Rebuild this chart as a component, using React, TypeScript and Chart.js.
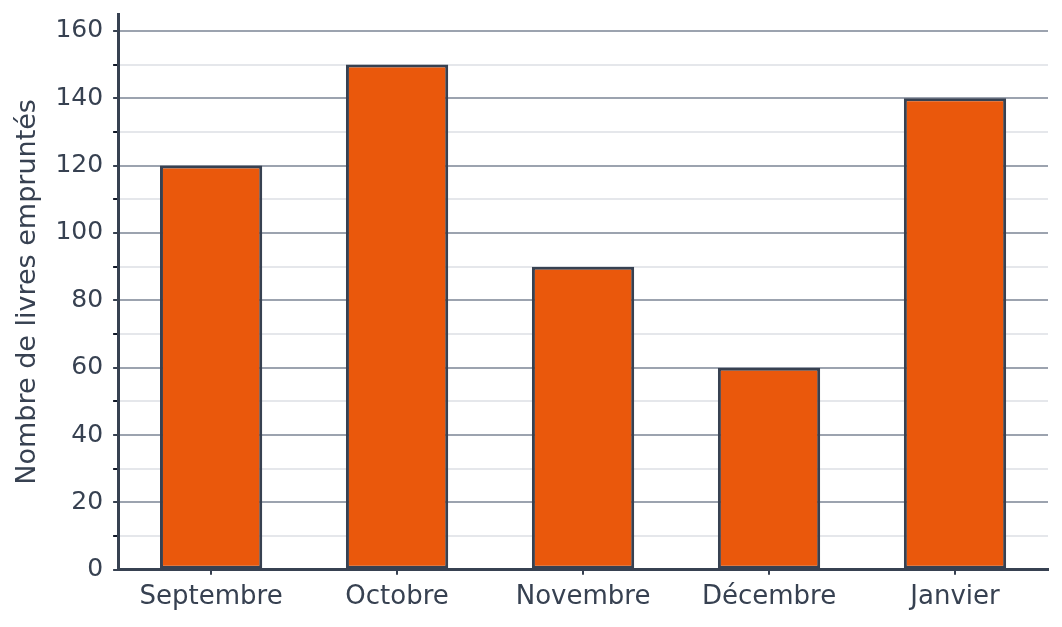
import { useEffect, useRef } from "react";
import Chart from "chart.js/auto";

const months = ["Septembre", "Octobre", "Novembre", "Décembre", "Janvier"];
const booksBorrowed = [120, 150, 90, 60, 140];
const yTickValues = [0, 10, 20, 30, 40, 50, 60, 70, 80, 90, 100, 110, 120, 130, 140, 150, 160];
const yMax = 165;

const TEXT = "#374151";

export default function App() {
  const ref = useRef<HTMLCanvasElement | null>(null);
  useEffect(() => {
    if (!ref.current) return;
    const ctx = ref.current.getContext("2d");
    if (!ctx) return;
    Chart.defaults.font.family = "'DejaVu Sans', sans-serif";
    Chart.defaults.color = TEXT;

    const chart = new Chart(ctx, {
      type: "bar",
      data: {
        labels: months,
        datasets: [
          {
            label: "Livres empruntés",
            data: booksBorrowed,
            backgroundColor: "#EA580C",
            borderColor: TEXT,
            borderWidth: 3,
            borderSkipped: false,
            barPercentage: 0.55,
            categoryPercentage: 1,
          },
        ],
      },
      options: {
        animation: false,
        responsive: true,
        maintainAspectRatio: false,
        layout: { padding: { top: 14, right: 14, bottom: 7, left: 12 } },
        plugins: { legend: { display: false }, tooltip: { enabled: false } },
        scales: {
          x: {
            border: { color: TEXT, width: 3 },
            grid: { offset: false, drawOnChartArea: false, drawTicks: true, tickLength: 5, color: TEXT, lineWidth: 2 },
            ticks: { font: { size: 26 }, color: TEXT, padding: 7 },
          },
          y: {
            min: 0,
            max: yMax,
            afterBuildTicks: (axis) => {
              axis.ticks = yTickValues.map((value) => ({ value }));
            },
            border: { color: TEXT, width: 3 },
            grid: {
              color: (c) => (c.tick && c.tick.value % 20 === 0 ? "#9ca3af" : "#e5e7eb"),
              tickColor: (c) => (c.tick && c.tick.value % 20 === 0 ? TEXT : "#111827"),
              lineWidth: 2,
              tickLength: 5,
            },
            ticks: {
              autoSkip: false,
              font: { size: 25, lineHeight: 0.3 },
              color: TEXT,
              padding: 10,
              callback: (v) => (Number(v) % 20 === 0 ? String(v) : ""),
            },
            title: {
              display: true,
              text: "Nombre de livres empruntés",
              font: { size: 27 },
              color: TEXT,
              padding: { top: 0, bottom: 1 },
            },
          },
        },
      },
    });
    return () => chart.destroy();
  }, []);
  return (
    <div style={{ position: "fixed", left: 0, top: 0, width: 1062, height: 627, background: "#fff" }}>
      <canvas ref={ref} />
    </div>
  );
}
